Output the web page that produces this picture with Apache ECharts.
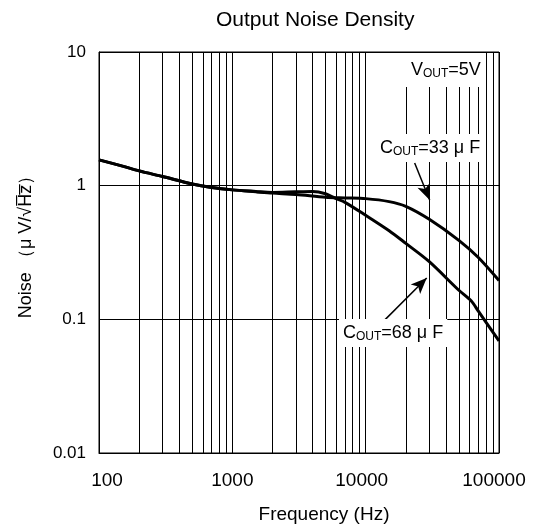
<!DOCTYPE html>
<html>
<head>
<meta charset="utf-8">
<script src="https://cdn.jsdelivr.net/npm/echarts@6/dist/echarts.min.js"></script>
<style>
  html, body { margin: 0; padding: 0; background: #fff; }
  #chart { width: 537px; height: 532px; }
</style>
</head>
<body>
<div id="chart"></div>
<script>
// 读图数据 (Hz, µV/√Hz)
const freq33 = [100, 150, 200, 300, 500, 700, 1000, 1500, 2000, 3000, 5000, 7000, 10000, 15000, 20000, 30000, 50000, 70000, 100000]
const noise33 = [1.56, 1.40, 1.29, 1.17, 1.03, 0.97, 0.93, 0.90, 0.88, 0.86, 0.82, 0.81, 0.80, 0.76, 0.70, 0.56, 0.39, 0.29, 0.195]
const freq68 = [100, 150, 200, 300, 500, 700, 1000, 1500, 2000, 3000, 4000, 5000, 6000, 7000, 10000, 15000, 20000, 30000, 50000, 62000, 70000, 100000]
const noise68 = [1.56, 1.40, 1.29, 1.17, 1.03, 0.97, 0.93, 0.905, 0.89, 0.90, 0.905, 0.87, 0.80, 0.75, 0.60, 0.46, 0.37, 0.27, 0.165, 0.137, 0.115, 0.069]
const xTicks = [100, 1000, 10000, 100000]
const yTicks = [0.01, 0.1, 1, 10]
const minorSteps = [2, 3, 4, 5, 6, 7, 8, 9]

const fontFamily = '"Liberation Sans", Arial, sans-serif'
const ink = '#000'

const pairs = (xs, ys) => xs.map((x, i) => [x, ys[i]])

// 竖向细分网格线
const minorLines = []
xTicks.slice(0, -1).forEach(decade => {
  minorSteps.forEach(m => minorLines.push({ xAxis: decade * m }))
})

const tickFont = { fontSize: 19, fontFamily, color: ink }
// x 轴标签微调（首尾标签内收）
const xLabelRich = {
  t0: { ...tickFont, padding: [0, 0, 0, 16] },
  t1: { ...tickFont },
  t2: { ...tickFont, padding: [0, 8, 0, 0] },
  t3: { ...tickFont, padding: [0, 10, 0, 0] }
}

const labelRich = {
  c: { fontSize: 18, fontFamily, color: ink, lineHeight: 20 },
  s: { fontSize: 12, fontFamily, color: ink, lineHeight: 20, verticalAlign: 'bottom' }
}

const myChart = echarts.init(document.getElementById('chart'), null, { renderer: 'canvas' })
myChart.setOption({
  animation: false,
  backgroundColor: '#fff',
  title: {
    text: 'Output Noise Density',
    left: 211,
    top: 5,
    textStyle: { fontSize: 21, fontWeight: 'normal', fontFamily, color: ink }
  },
  grid: {
    left: 99,
    top: 52,
    width: 400,
    height: 401,
    show: true,
    borderColor: ink,
    borderWidth: 1
  },
  xAxis: {
    type: 'log',
    logBase: 10,
    min: xTicks[0],
    max: xTicks[xTicks.length - 1],
    name: 'Frequency (Hz)',
    nameLocation: 'middle',
    nameGap: 52,
    nameTextStyle: { fontSize: 19, fontFamily, color: ink, padding: [0, 0, 0, 50] },
    axisLine: { show: true, lineStyle: { color: ink, width: 1 } },
    axisTick: { show: false },
    axisLabel: {
      ...tickFont,
      margin: 18,
      rich: xLabelRich,
      formatter: v => {
        const val = Math.round(v)
        const i = xTicks.indexOf(val)
        return `{t${i < 0 ? 1 : i}|${val}}`
      }
    },
    splitLine: { show: true, lineStyle: { color: ink, width: 1 } }
  },
  yAxis: {
    type: 'log',
    logBase: 10,
    min: yTicks[0],
    max: yTicks[yTicks.length - 1],
    name: 'Noise （μ V/√H\u0305z\u0305）',
    nameLocation: 'middle',
    nameGap: 64,
    nameTextStyle: { fontSize: 18, fontFamily, color: ink, padding: [0, 0, 0, 20] },
    axisLine: { show: true, lineStyle: { color: ink, width: 1 } },
    axisTick: { show: false },
    axisLabel: {
      fontSize: 17,
      fontFamily,
      color: ink,
      margin: 13,
      formatter: v => String(+v.toPrecision(3))
    },
    splitLine: { show: true, lineStyle: { color: ink, width: 1 } }
  },
  series: [
    {
      // 网格
      type: 'line',
      data: [],
      z: 1,
      silent: true,
      markLine: {
        silent: true,
        symbol: 'none',
        animation: false,
        label: { show: false },
        lineStyle: { color: ink, width: 1, type: 'solid' },
        data: minorLines
      }
    },
    {
      name: 'COUT=33μF',
      type: 'line',
      data: pairs(freq33, noise33),
      smooth: 0.3,
      showSymbol: false,
      z: 3,
      lineStyle: { color: ink, width: 3 },
      // 标注箭头
      markLine: {
        silent: true,
        symbol: ['none', 'arrow'],
        symbolSize: [10, 16],
        label: { show: false },
        lineStyle: { color: ink, width: 1.5, type: 'solid' },
        data: [
          [{ coord: [23300, 1.48] }, { coord: [30200, 0.78] }],
          [{ coord: [13400, 0.0953] }, { coord: [28700, 0.204] }]
        ]
      }
    },
    {
      name: 'COUT=68μF',
      type: 'line',
      data: pairs(freq68, noise68),
      smooth: 0.3,
      showSymbol: false,
      z: 3,
      lineStyle: { color: ink, width: 3 }
    }
  ],
  graphic: [
    {
      type: 'text',
      z: 100,
      x: 406,
      y: 53,
      style: {
        text: '{c|V}{s|OUT}{c|=5V}',
        rich: labelRich,
        backgroundColor: '#fff',
        padding: [7, 4, 7, 5]
      }
    },
    {
      type: 'text',
      z: 100,
      x: 376,
      y: 134,
      style: {
        text: '{c|C}{s|OUT}{c|=33 μ F}',
        rich: labelRich,
        backgroundColor: '#fff',
        padding: [4, 4, 4, 4]
      }
    },
    {
      type: 'text',
      z: 100,
      x: 339,
      y: 319,
      style: {
        text: '{c|C}{s|OUT}{c|=68 μ F}',
        rich: labelRich,
        backgroundColor: '#fff',
        padding: [4, 4, 4, 4]
      }
    }
  ]
})
</script>
</body>
</html>
